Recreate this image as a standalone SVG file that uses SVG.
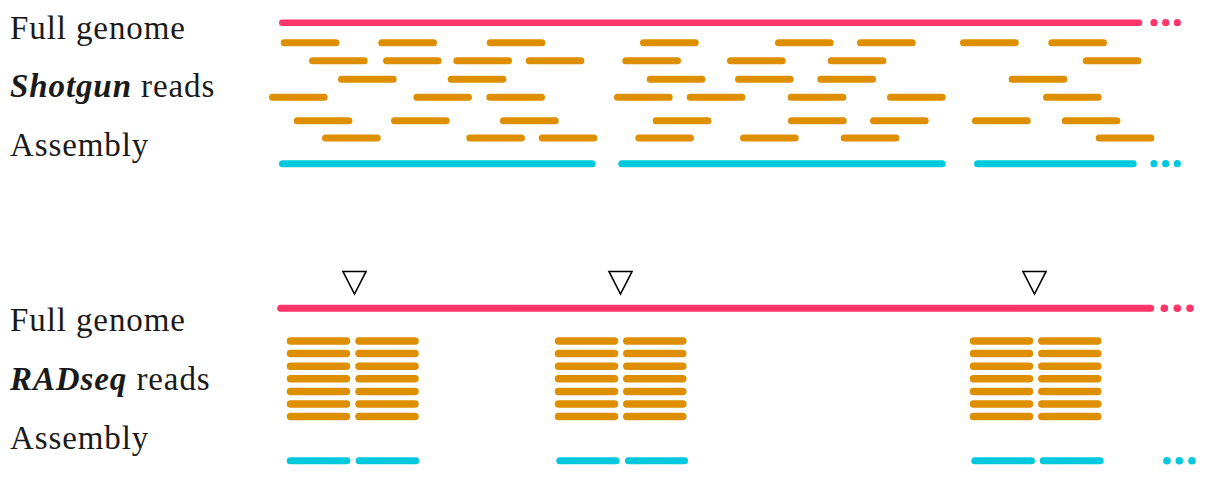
<svg xmlns="http://www.w3.org/2000/svg" width="1221" height="484" viewBox="0 0 1221 484">
<style>
.lbl{font-family:"Liberation Serif","Times New Roman",serif;font-size:33px;letter-spacing:0.9px;fill:#1a1a1a}
.bi{font-weight:bold;font-style:italic}
.genome{stroke:#ff3469;stroke-width:6.5;stroke-linecap:round;fill:none}
.read{stroke:#de8f00;stroke-width:7;stroke-linecap:round;fill:none}
.rad{stroke:#de8f00;stroke-width:7.5;stroke-linecap:round;fill:none}
.asm{stroke:#00c9dd;stroke-width:7;stroke-linecap:round;fill:none}
.pd{fill:#ff3469}
.cd{fill:#00c9dd}
.site{fill:#fff;stroke:#000;stroke-width:1.6;stroke-linejoin:miter}
</style>
<g id="labels-top">
<text class="lbl" x="10" y="39">Full genome</text>
<text class="lbl" x="10" y="97"><tspan class="bi">Shotgun</tspan> reads</text>
<text class="lbl" x="10" y="156">Assembly</text>
</g>
<g id="labels-bottom">
<text class="lbl" x="10" y="331">Full genome</text>
<text class="lbl" x="10" y="390"><tspan class="bi">RADseq</tspan> reads</text>
<text class="lbl" x="10" y="449">Assembly</text>
</g>
<g id="shotgun-genome">
<path class="genome" d="M282.3 22.7H1139"/>
<circle class="pd" cx="1154" cy="22.7" r="3.6"/><circle class="pd" cx="1165.7" cy="22.7" r="3.6"/><circle class="pd" cx="1177.3" cy="22.7" r="3.6"/>
</g>
<g id="shotgun-reads">
<path class="read" d="M284.2 42.7h51.7M381.8 42.7h51.7M490.2 42.7h51.7M643.5 42.7h51.7M778.5 42.7h51.7M860.5 42.7h51.7M963.5 42.7h51.7M1051.8 42.7h51.7"/>
<path class="read" d="M312.5 60.7h51.7M386.5 60.7h51.7M456.8 60.7h51.7M529.2 60.7h51.7M625.8 60.7h51.7M730.5 60.7h51.7M831.2 60.7h51.7M1086.2 60.7h51.7"/>
<path class="read" d="M341.5 79.3h51.7M451.2 79.3h51.7M650.2 79.3h51.7M738.5 79.3h51.7M820.8 79.3h51.7M1012.2 79.3h51.7"/>
<path class="read" d="M272.5 97.3h51.7M416.8 97.3h51.7M489.8 97.3h51.7M617.5 97.3h51.7M690.2 97.3h51.7M791.2 97.3h51.7M890.5 97.3h51.7M1046.5 97.3h51.7"/>
<path class="read" d="M297.2 120.7h51.7M394.5 120.7h51.7M503.5 120.7h51.7M656.2 120.7h51.7M791.5 120.7h51.7M873.5 120.7h51.7M975.5 120.7h51.7M1065.2 120.7h51.7"/>
<path class="read" d="M325.5 138h51.7M469.8 138h51.7M542.2 138h51.7M638.8 138h51.7M743.5 138h51.7M844.2 138h51.7M1099.2 138h51.7"/>
</g>
<g id="shotgun-assembly">
<path class="asm" d="M282.5 163.7H592.2M621.8 163.7H942.2M977.5 163.7H1133.2"/>
<circle class="cd" cx="1154" cy="163.7" r="3.6"/><circle class="cd" cx="1165.7" cy="163.7" r="3.6"/><circle class="cd" cx="1177.3" cy="163.7" r="3.6"/>
</g>
<g id="rad-sites">
<path class="site" d="M343 271.5H366L354.5 294Z"/>
<path class="site" d="M609 271.5H632L620.5 294Z"/>
<path class="site" d="M1023 271.5H1046L1034.5 294Z"/>
</g>
<g id="rad-genome">
<path class="genome" d="M280.7 308.3H1150.7" style="stroke-width:7"/>
<circle class="pd" cx="1164.3" cy="308.3" r="3.8"/><circle class="pd" cx="1177.3" cy="308.3" r="3.8"/><circle class="pd" cx="1190" cy="308.3" r="3.8"/>
</g>
<g id="rad-reads-1">
<path class="rad" d="M290.5 341h56M359 341h56M290.5 353.6h56M359 353.6h56M290.5 366.2h56M359 366.2h56M290.5 378.8h56M359 378.8h56M290.5 391.4h56M359 391.4h56M290.5 404h56M359 404h56M290.5 416.6h56M359 416.6h56"/>
</g>
<g id="rad-reads-2">
<path class="rad" d="M558.5 341h56M626.8 341h56M558.5 353.6h56M626.8 353.6h56M558.5 366.2h56M626.8 366.2h56M558.5 378.8h56M626.8 378.8h56M558.5 391.4h56M626.8 391.4h56M558.5 404h56M626.8 404h56M558.5 416.6h56M626.8 416.6h56"/>
</g>
<g id="rad-reads-3">
<path class="rad" d="M973.5 341h56M1041.8 341h56M973.5 353.6h56M1041.8 353.6h56M973.5 366.2h56M1041.8 366.2h56M973.5 378.8h56M1041.8 378.8h56M973.5 391.4h56M1041.8 391.4h56M973.5 404h56M1041.8 404h56M973.5 416.6h56M1041.8 416.6h56"/>
</g>
<g id="rad-assembly">
<path class="asm" d="M290.2 460.7H346.8M359.2 460.7H415.8M559.8 460.7H616.2M628.5 460.7H684.5M974.8 460.7H1031.5M1043.2 460.7H1100.2"/>
<circle class="cd" cx="1167" cy="460.7" r="3.8"/><circle class="cd" cx="1179.3" cy="460.7" r="3.8"/><circle class="cd" cx="1192" cy="460.7" r="3.8"/>
</g>
</svg>
